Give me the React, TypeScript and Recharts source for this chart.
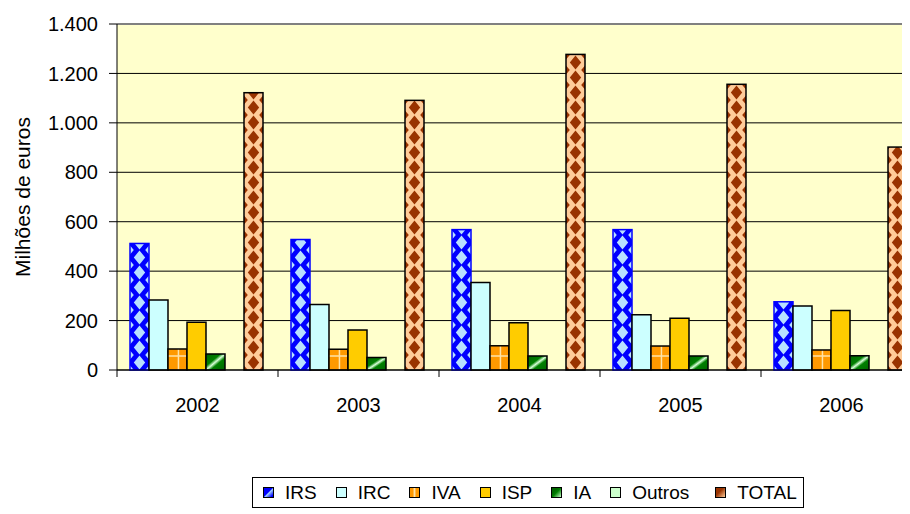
import React from 'react';
import { BarChart, Bar, XAxis, YAxis, CartesianGrid, ReferenceLine } from 'recharts';

// values in millions of euros
const years = ['2002', '2003', '2004', '2005', '2006'];
const irs = [512, 528, 568, 568, 276];
const irc = [283, 265, 354, 224, 259];
const iva = [85, 84, 98, 97, 81];
const isp = [193, 162, 191, 209, 241];
const ia = [65, 51, 57, 57, 58];
const outros = [0, 0, 0, 0, 0];
const total = [1122, 1091, 1277, 1156, 902];
const yTicks = [0, 200, 400, 600, 800, 1000, 1200, 1400];
const seriesNames = ['IRS', 'IRC', 'IVA', 'ISP', 'IA', 'Outros', 'TOTAL'];

const data = years.map((year, i) => ({
    year,
    IRS: irs[i],
    IRC: irc[i],
    IVA: iva[i],
    ISP: isp[i],
    IA: ia[i],
    Outros: outros[i],
    TOTAL: total[i],
}));

const CHART_W = 920;
const CHART_H = 506;
const Y_AXIS_W = 109;
const MARGIN = { top: 16, right: 6, bottom: 94, left: 0 };
const PLOT_W = CHART_W - MARGIN.left - MARGIN.right - Y_AXIS_W;
const FONT = '"Liberation Sans", Arial, sans-serif';

const fmt = (v: number) => v.toLocaleString('de-DE');

// diamond checker, anchored on each bar so the column of diamonds sits in the middle
const diamondBar = (id: string, bg: string, fg: string, stroke: string) => (props: any) => {
    const { x, y, width, height } = props;
    if (!height || height <= 0) return <g />;
    const pid = `${id}-${Math.round(x)}`;
    const w = width;
    const ph = 15;
    const d = (cx: number, cy: number, rx: number, ry: number) =>
        `M${cx - rx},${cy} L${cx},${cy - ry} L${cx + rx},${cy} L${cx},${cy + ry} Z `;
    const big = d(w / 2, ph / 2, w * 0.3, ph * 0.46);
    const small =
        d(0, 0, w * 0.2, ph * 0.3) + d(w, 0, w * 0.2, ph * 0.3) + d(0, ph, w * 0.2, ph * 0.3) + d(w, ph, w * 0.2, ph * 0.3);
    return (
        <g>
            <defs>
                <pattern id={pid} patternUnits="userSpaceOnUse" x={x} y={y + height} width={w} height={ph}>
                    <rect width={w} height={ph} fill={bg} />
                    <path d={big + small} fill={fg} />
                </pattern>
            </defs>
            <rect x={x} y={y} width={w} height={height} fill={`url(#${pid})`} stroke={stroke} strokeWidth={1.5} />
        </g>
    );
};

const gridBar = (props: any) => {
    const { x, y, width, height } = props;
    if (!height || height <= 0) return <g />;
    const pid = `iva-${Math.round(x)}`;
    const ph = 15;
    return (
        <g>
            <defs>
                <pattern id={pid} patternUnits="userSpaceOnUse" x={x} y={y + height} width={width} height={ph}>
                    <rect width={width} height={ph} fill="#FF9900" />
                    <line x1={width * 0.55} x2={width * 0.55} y1={0} y2={ph} stroke="#FFE3A8" strokeWidth={1.5} />
                    <line x1={0} x2={width} y1={1} y2={1} stroke="#FFE3A8" strokeWidth={1.5} />
                </pattern>
            </defs>
            <rect x={x} y={y} width={width} height={height} fill={`url(#${pid})`} stroke="#000" strokeWidth={1.5} />
        </g>
    );
};

const YearTick = (props: any) => {
    const { x, y, payload } = props;
    const axisY = y - 6;
    const band = PLOT_W / years.length;
    return (
        <g>
            <line x1={x - band / 2} x2={x - band / 2} y1={axisY} y2={axisY + 7} stroke="#000" />
            <text x={x} y={axisY + 42} textAnchor="middle" fontSize={20} fontFamily={FONT} fill="#000">
                {payload.value}
            </text>
        </g>
    );
};

const swatches: Record<string, string> = {
    IRS: 'linear-gradient(135deg, #0000FF 45%, #9FD0FF 55%, #0000FF 90%)',
    IRC: '#CCFFFF',
    IVA: 'linear-gradient(90deg, #FF9900 30%, #FFE3A8 50%, #FF9900 70%)',
    ISP: '#FFCC00',
    IA: 'linear-gradient(135deg, #006600 30%, #008000 50%, #CCFFCC 100%)',
    Outros: '#CCFFCC',
    TOTAL: 'linear-gradient(135deg, #993300 40%, #FFCC99 100%)',
};

const Legend = () => (
    <div
        style={{
            position: 'absolute',
            left: 244,
            top: 469,
            width: 552,
            height: 31,
            border: '1px solid #000',
            display: 'flex',
            alignItems: 'center',
            paddingLeft: 10,
            boxSizing: 'border-box',
            fontSize: 19,
            fontFamily: FONT,
            background: '#fff',
        }}
    >
        {seriesNames.map((name) => (
            <div key={name} style={{ display: 'flex', alignItems: 'center', marginRight: name === 'Outros' ? 26 : 19 }}>
                <span style={{ width: 9, height: 9, border: '1px solid #000', background: swatches[name] }} />
                <span style={{ marginLeft: 11 }}>{name}</span>
            </div>
        ))}
    </div>
);

export default function App() {
    return (
        <div style={{ position: 'relative', width: CHART_W, height: CHART_H }}>
            <style>{'body { overflow: hidden; }'}</style>
            <BarChart
                width={CHART_W}
                height={CHART_H}
                data={data}
                margin={MARGIN}
                barCategoryGap={13}
                barGap={0}
            >
                <defs>
                    <linearGradient id="iaGrad" x1="0" y1="0" x2="1" y2="1">
                        <stop offset="0" stopColor="#006600" />
                        <stop offset="0.38" stopColor="#008000" />
                        <stop offset="0.5" stopColor="#D8FFD8" />
                        <stop offset="0.62" stopColor="#008000" />
                        <stop offset="1" stopColor="#006600" />
                    </linearGradient>
                </defs>
                <CartesianGrid vertical={false} stroke="#000" fill="#FFFFCC" />
                <ReferenceLine y={1400} stroke="#808080" strokeWidth={2} />
                <XAxis
                    dataKey="year"
                    height={50}
                    axisLine={{ stroke: '#000' }}
                    tickLine={false}
                    tickSize={6}
                    tickMargin={0}
                    tick={<YearTick />}
                    interval={0}
                />
                <YAxis
                    width={Y_AXIS_W}
                    domain={[0, 1400]}
                    ticks={yTicks}
                    tickFormatter={fmt}
                    axisLine={{ stroke: '#000' }}
                    tickLine={{ stroke: '#000' }}
                    tickSize={8}
                    tickMargin={11}
                    tick={{ fontSize: 20, fill: '#000', fontFamily: FONT }}
                    label={{
                        content: () => (
                            <text
                                x={14}
                                y={189}
                                transform="rotate(-90 14 189)"
                                textAnchor="middle"
                                dominantBaseline="central"
                                fontSize={21}
                                fontFamily={FONT}
                                fill="#000"
                            >
                                Milhões de euros
                            </text>
                        ),
                    }}
                />
                <Bar dataKey="IRS" isAnimationActive={false} shape={diamondBar('irs', '#0000FF', '#B8E0FF', '#0000FF')} />
                <Bar dataKey="IRC" isAnimationActive={false} fill="#CCFFFF" stroke="#000" strokeWidth={1.5} />
                <Bar dataKey="IVA" isAnimationActive={false} shape={gridBar} />
                <Bar dataKey="ISP" isAnimationActive={false} fill="#FFCC00" stroke="#000" strokeWidth={1.5} />
                <Bar dataKey="IA" isAnimationActive={false} fill="url(#iaGrad)" stroke="#000" strokeWidth={1.5} />
                <Bar dataKey="Outros" isAnimationActive={false} fill="#CCFFCC" stroke="#000" strokeWidth={1.5} />
                <Bar dataKey="TOTAL" isAnimationActive={false} shape={diamondBar('total', '#FFCC99', '#993300', '#000')} />
            </BarChart>
            <Legend />
        </div>
    );
}
